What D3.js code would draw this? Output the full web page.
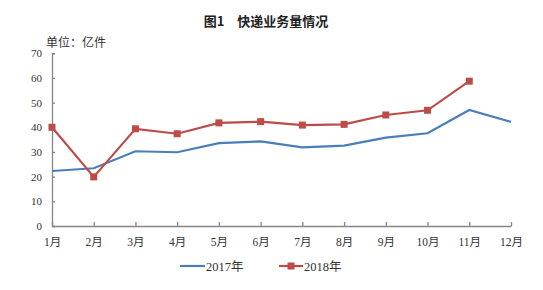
<!DOCTYPE html>
<html>
<head>
<meta charset="utf-8">
<script src="https://cdn.jsdelivr.net/npm/d3@7"></script>
<style>
  body { margin: 0; background: #fff; }
  text { font-family: "Liberation Serif", "Noto Sans CJK SC", serif; }
</style>
</head>
<body>
<div class="viewbox"></div>
<script>
  // months along the bottom
  const months = ["1月", "2月", "3月", "4月", "5月", "6月", "7月", "8月", "9月", "10月", "11月", "12月"]
  // 亿件
  const v2017 = [22.3, 23.4, 30.3, 29.9, 33.6, 34.3, 31.9, 32.6, 35.8, 37.6, 47.0, 42.2]
  const v2018 = [40.0, 19.9, 39.4, 37.4, 41.8, 42.3, 40.9, 41.2, 45.0, 46.9, 58.7]
  const yTicks = [0, 10, 20, 30, 40, 50, 60, 70]

  const svg_width = 543;
  const svg_height = 290;
  const BLUE = "#4a7ebb", RED = "#be4b48", AXIS = "#868686";

  let svg = d3.select(".viewbox")
    .append("svg")
    .attr("width", svg_width)
    .attr("height", svg_height)

  let x = d3.scalePoint().domain(months).range([52, 511])
  let y = d3.scaleLinear().domain([0, 70]).range([226, 53.3])

  // title + unit
  svg.append("text")
    .attr("x", 266).attr("y", 26)
    .attr("text-anchor", "middle")
    .style("font-family", "'Noto Sans CJK SC', sans-serif")
    .style("font-size", "13px")
    .style("font-weight", "bold")
    .attr("fill", "#222")
    .text("图1\u3000快递业务量情况")

  svg.append("text")
    .attr("x", 46).attr("y", 47)
    .style("font-family", "'Noto Sans CJK SC', sans-serif")
    .style("font-size", "12px")
    .attr("fill", "#333")
    .text("单位：亿件")

  // y axis, ticks pointing inward
  let yAxis = svg.append("g")
    .attr("transform", "translate(52,0)")
    .call(d3.axisLeft(y).tickValues(yTicks).tickSizeInner(-3).tickSizeOuter(-3).tickPadding(10))
  // x axis, ticks pointing up
  let xAxis = svg.append("g")
    .attr("transform", "translate(0,226)")
    .call(d3.axisBottom(x).tickSizeInner(-4).tickSizeOuter(0).tickPadding(10))

  svg.selectAll(".domain, .tick line").attr("stroke", AXIS).attr("stroke-width", 1.3)
  yAxis.selectAll("text").style("font-size", "11px").attr("fill", "#333")
  xAxis.selectAll("text").style("font-size", "11.5px").attr("fill", "#333").attr("dy", "0.9em")

  let line = d3.line()
    .x((d, i) => x(months[i]))
    .y(d => y(d))

  svg.append("path").datum(v2017)
    .attr("d", line).attr("fill", "none")
    .attr("stroke", BLUE).attr("stroke-width", 2.2)

  svg.append("path").datum(v2018)
    .attr("d", line).attr("fill", "none")
    .attr("stroke", RED).attr("stroke-width", 2.2)

  svg.selectAll("rect.m18")
    .data(v2018)
    .enter()
    .append("rect")
    .attr("class", "m18")
    .attr("x", (d, i) => x(months[i]) - 3.5)
    .attr("y", d => y(d) - 3.5)
    .attr("width", 7).attr("height", 7)
    .attr("fill", RED)

  // legend
  let lg = svg.append("g").attr("transform", "translate(0,266)")
  lg.append("line").attr("x1", 180).attr("x2", 205).attr("y1", 0).attr("y2", 0)
    .attr("stroke", BLUE).attr("stroke-width", 2.2)
  lg.append("text").attr("x", 206).attr("y", 4.5)
    .style("font-size", "12.5px").attr("fill", "#333").text("2017年")
  lg.append("line").attr("x1", 279).attr("x2", 303).attr("y1", 0).attr("y2", 0)
    .attr("stroke", RED).attr("stroke-width", 2.2)
  lg.append("rect").attr("x", 287.5).attr("y", -3.5).attr("width", 7).attr("height", 7).attr("fill", RED)
  lg.append("text").attr("x", 304).attr("y", 4.5)
    .style("font-size", "12.5px").attr("fill", "#333").text("2018年")
</script>
</body>
</html>
